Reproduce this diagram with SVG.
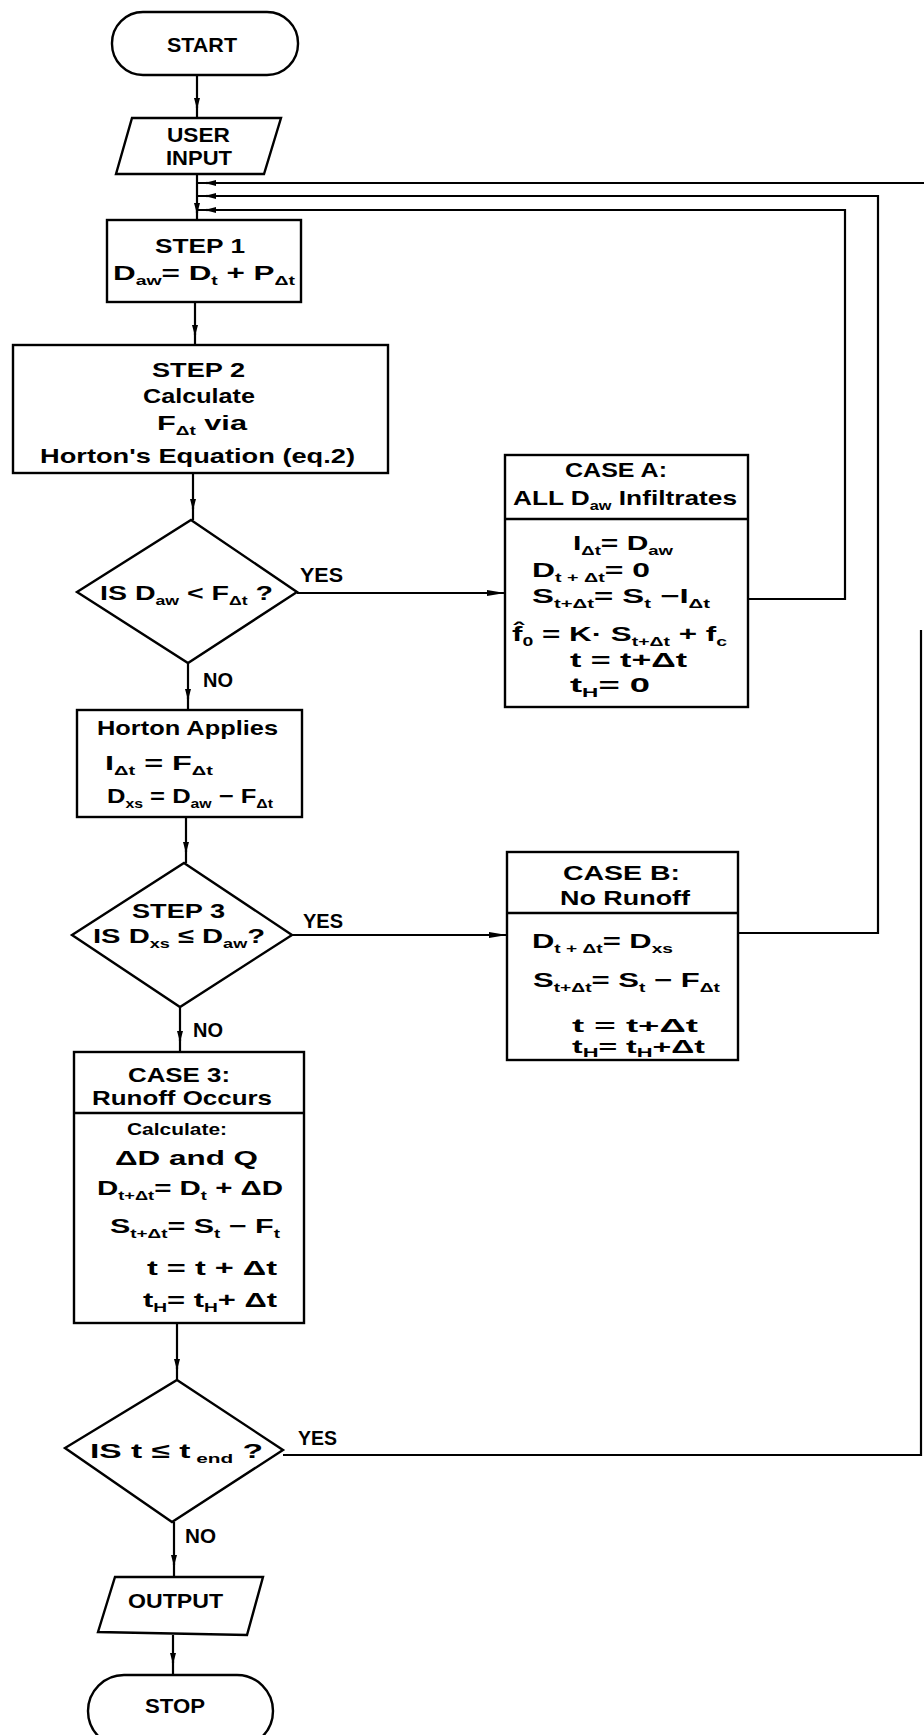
<svg xmlns="http://www.w3.org/2000/svg" width="924" height="1735" viewBox="0 0 924 1735" xml:space="preserve">
<style>
.n{fill:none;stroke:#000;stroke-width:2.4}
.c{fill:none;stroke:#000;stroke-width:2.2}
text{font-family:"Liberation Sans",Arial,sans-serif;font-size:21px;font-weight:bold;fill:#000}
.sb{font-size:13px}
.sm{font-size:17px}
.tt{font-size:19px}
</style>
<defs>
<marker id="sa" markerUnits="userSpaceOnUse" markerWidth="11" markerHeight="8" refX="10" refY="4" orient="auto"><path d="M0,1 L11,4 L0,7 z" fill="#000"/></marker>
<marker id="ba" markerUnits="userSpaceOnUse" markerWidth="18" markerHeight="8" refX="18" refY="4" orient="auto"><path d="M0,1 L18,4 L0,7 z" fill="#000"/></marker>
</defs>
<rect width="924" height="1735" fill="#fff"/>

<g id="connectors">
<path class="c" d="M197,75 V118"/><path class="c" d="M197,98 V108" marker-end="url(#sa)"/>
<path class="c" d="M197,174 V220"/><path class="c" d="M197,203 V213" marker-end="url(#sa)"/>
<path class="c" d="M195,302 V345"/><path class="c" d="M195,325 V335" marker-end="url(#sa)"/>
<path class="c" d="M193,473 V520"/><path class="c" d="M193,499 V509" marker-end="url(#sa)"/>
<path class="c" d="M297,593 H505" marker-end="url(#ba)"/>
<path class="c" d="M188,663 V710"/><path class="c" d="M188,689 V699" marker-end="url(#sa)"/>
<path class="c" d="M186,817 V863"/><path class="c" d="M186,842 V852" marker-end="url(#sa)"/>
<path class="c" d="M292,935 H507" marker-end="url(#ba)"/>
<path class="c" d="M180,1007 V1052"/><path class="c" d="M180,1031 V1041" marker-end="url(#sa)"/>
<path class="c" d="M177,1323 V1380"/><path class="c" d="M177,1359 V1369" marker-end="url(#sa)"/>
<path class="c" d="M174,1522 V1577"/><path class="c" d="M174,1555 V1565" marker-end="url(#sa)"/>
<path class="c" d="M173,1635 V1675"/><path class="c" d="M173,1653 V1663" marker-end="url(#sa)"/>
<path class="c" d="M748,599 H845 V210 H198"/><path class="c" d="M216,210 H206" marker-end="url(#sa)"/>
<path class="c" d="M738,933 H878 V196 H198"/><path class="c" d="M216,196 H206" marker-end="url(#sa)"/>
<path class="c" d="M924,183 H198"/><path class="c" d="M216,183 H206" marker-end="url(#sa)"/>
<path class="c" d="M283,1455 H921 V630"/>
<text x="300" y="582" textLength="43" lengthAdjust="spacingAndGlyphs">YES</text>
<text x="203" y="687" textLength="30" lengthAdjust="spacingAndGlyphs">NO</text>
<text x="303" y="928" textLength="40" lengthAdjust="spacingAndGlyphs">YES</text>
<text x="193" y="1037" textLength="30" lengthAdjust="spacingAndGlyphs">NO</text>
<text x="298" y="1445" textLength="39" lengthAdjust="spacingAndGlyphs">YES</text>
<text x="185" y="1543" textLength="31" lengthAdjust="spacingAndGlyphs">NO</text>
</g>

<g id="start">
<rect class="n" x="112" y="12" width="186" height="63" rx="31"/>
<text x="167" y="52" textLength="70" lengthAdjust="spacingAndGlyphs">START</text>
</g>

<g id="user-input">
<polygon class="n" points="132,118 281,118 264,174 116,174"/>
<text x="167" y="142" textLength="63" lengthAdjust="spacingAndGlyphs">USER</text>
<text x="166" y="165" textLength="66" lengthAdjust="spacingAndGlyphs">INPUT</text>
</g>

<g id="step1">
<rect class="n" x="107" y="220" width="194" height="82"/>
<text x="155" y="253" textLength="90" lengthAdjust="spacingAndGlyphs">STEP  1</text>
<text x="113" y="280" textLength="182" lengthAdjust="spacingAndGlyphs">D<tspan class="sb" dy="5">aw</tspan><tspan dy="-5">=  D</tspan><tspan class="sb" dy="5">t</tspan><tspan dy="-5">  +  P</tspan><tspan class="sb" dy="5">Δt</tspan></text>
</g>

<g id="step2">
<rect class="n" x="13" y="345" width="375" height="128"/>
<text x="152" y="377" textLength="93" lengthAdjust="spacingAndGlyphs">STEP  2</text>
<text x="143" y="403" textLength="112" lengthAdjust="spacingAndGlyphs">Calculate</text>
<text x="157" y="430" textLength="90" lengthAdjust="spacingAndGlyphs">F<tspan class="sb" dy="5">Δt</tspan><tspan dy="-5">   via</tspan></text>
<text x="40" y="463" textLength="315" lengthAdjust="spacingAndGlyphs">Horton's  Equation  (eq.2)</text>
</g>

<g id="decision1">
<polygon class="n" points="191,520 297,592 188,663 77,592"/>
<text x="100" y="600" textLength="173" lengthAdjust="spacingAndGlyphs">IS  D<tspan class="sb" dy="5">aw</tspan><tspan dy="-5"> &lt; F</tspan><tspan class="sb" dy="5">Δt</tspan><tspan dy="-5">  ?</tspan></text>
</g>

<g id="caseA">
<rect class="n" x="505" y="455" width="243" height="252"/>
<line class="n" x1="505" y1="519" x2="748" y2="519"/>
<text x="565" y="477" textLength="102" lengthAdjust="spacingAndGlyphs">CASE  A:</text>
<text x="513" y="505" textLength="224" lengthAdjust="spacingAndGlyphs">ALL  D<tspan class="sb" dy="5">aw</tspan><tspan dy="-5">  Infiltrates</tspan></text>
<text x="573" y="550" textLength="100" lengthAdjust="spacingAndGlyphs">I<tspan class="sb" dy="5">Δt</tspan><tspan dy="-5">=  D</tspan><tspan class="sb" dy="5">aw</tspan></text>
<text x="532" y="577" textLength="118" lengthAdjust="spacingAndGlyphs">D<tspan class="sb" dy="5">t + Δt</tspan><tspan dy="-5">=  0</tspan></text>
<text x="532" y="603" textLength="178" lengthAdjust="spacingAndGlyphs">S<tspan class="sb" dy="5">t+Δt</tspan><tspan dy="-5">=  S</tspan><tspan class="sb" dy="5">t</tspan><tspan dy="-5"> −I</tspan><tspan class="sb" dy="5">Δt</tspan></text>
<text x="512" y="641" textLength="215" lengthAdjust="spacingAndGlyphs">f̂<tspan class="sb" dy="5">0</tspan><tspan dy="-5"> =  K· S</tspan><tspan class="sb" dy="5">t+Δt</tspan><tspan dy="-5"> +  f</tspan><tspan class="sb" dy="5">c</tspan></text>
<text x="570" y="667" textLength="117" lengthAdjust="spacingAndGlyphs">t  =  t+Δt</text>
<text x="570" y="692" textLength="80" lengthAdjust="spacingAndGlyphs">t<tspan class="sb" dy="5">H</tspan><tspan dy="-5">=  0</tspan></text>
</g>

<g id="horton">
<rect class="n" x="77" y="710" width="225" height="107"/>
<text x="97" y="735" textLength="181" lengthAdjust="spacingAndGlyphs">Horton  Applies</text>
<text x="105" y="770" textLength="108" lengthAdjust="spacingAndGlyphs">I<tspan class="sb" dy="5">Δt</tspan><tspan dy="-5"> =  F</tspan><tspan class="sb" dy="5">Δt</tspan></text>
<text x="107" y="803" textLength="166" lengthAdjust="spacingAndGlyphs">D<tspan class="sb" dy="5">xs</tspan><tspan dy="-5"> = D</tspan><tspan class="sb" dy="5">aw</tspan><tspan dy="-5"> − F</tspan><tspan class="sb" dy="5">Δt</tspan></text>
</g>

<g id="decision2">
<polygon class="n" points="184,863 292,935 180,1007 72,935"/>
<text x="132" y="918" textLength="93" lengthAdjust="spacingAndGlyphs">STEP  3</text>
<text x="93" y="943" textLength="172" lengthAdjust="spacingAndGlyphs">IS  D<tspan class="sb" dy="5">xs</tspan><tspan dy="-5">  ≤  D</tspan><tspan class="sb" dy="5">aw</tspan><tspan dy="-5">?</tspan></text>
</g>

<g id="caseB">
<rect class="n" x="507" y="852" width="231" height="208"/>
<line class="n" x1="507" y1="913" x2="738" y2="913"/>
<text x="563" y="880" textLength="117" lengthAdjust="spacingAndGlyphs">CASE  B:</text>
<text x="560" y="905" textLength="130" lengthAdjust="spacingAndGlyphs">No  Runoff</text>
<text x="532" y="948" textLength="141" lengthAdjust="spacingAndGlyphs">D<tspan class="sb" dy="5">t + Δt</tspan><tspan dy="-5">=  D</tspan><tspan class="sb" dy="5">xs</tspan></text>
<text x="533" y="987" textLength="187" lengthAdjust="spacingAndGlyphs">S<tspan class="sb" dy="5">t+Δt</tspan><tspan dy="-5">=  S</tspan><tspan class="sb" dy="5">t</tspan><tspan dy="-5"> − F</tspan><tspan class="sb" dy="5">Δt</tspan></text>
<text class="tt" x="572" y="1032" textLength="126" lengthAdjust="spacingAndGlyphs">t  =  t+Δt</text>
<text class="tt" x="572" y="1053" textLength="133" lengthAdjust="spacingAndGlyphs">t<tspan class="sb" dy="4">H</tspan><tspan dy="-4">=  t</tspan><tspan class="sb" dy="4">H</tspan><tspan dy="-4">+Δt</tspan></text>
</g>

<g id="case3">
<rect class="n" x="74" y="1052" width="230" height="271"/>
<line class="n" x1="74" y1="1113" x2="304" y2="1113"/>
<text x="128" y="1082" textLength="102" lengthAdjust="spacingAndGlyphs">CASE  3:</text>
<text x="92" y="1105" textLength="180" lengthAdjust="spacingAndGlyphs">Runoff  Occurs</text>
<text class="sm" x="127" y="1135" textLength="100" lengthAdjust="spacingAndGlyphs">Calculate:</text>
<text x="115" y="1165" textLength="143" lengthAdjust="spacingAndGlyphs">ΔD    and   Q</text>
<text x="97" y="1195" textLength="186" lengthAdjust="spacingAndGlyphs">D<tspan class="sb" dy="5">t+Δt</tspan><tspan dy="-5">=  D</tspan><tspan class="sb" dy="5">t</tspan><tspan dy="-5"> + ΔD</tspan></text>
<text x="110" y="1233" textLength="170" lengthAdjust="spacingAndGlyphs">S<tspan class="sb" dy="5">t+Δt</tspan><tspan dy="-5">=  S</tspan><tspan class="sb" dy="5">t</tspan><tspan dy="-5"> − F</tspan><tspan class="sb" dy="5">t</tspan></text>
<text x="147" y="1275" textLength="130" lengthAdjust="spacingAndGlyphs">t  =  t + Δt</text>
<text x="143" y="1307" textLength="134" lengthAdjust="spacingAndGlyphs">t<tspan class="sb" dy="5">H</tspan><tspan dy="-5">=  t</tspan><tspan class="sb" dy="5">H</tspan><tspan dy="-5">+ Δt</tspan></text>
</g>

<g id="decision3">
<polygon class="n" points="177,1380 283,1450 172,1522 65,1448"/>
<text x="90" y="1458" textLength="173" lengthAdjust="spacingAndGlyphs">IS  t  ≤  t<tspan class="sb" dy="5"> end</tspan><tspan dy="-5">  ?</tspan></text>
</g>

<g id="output">
<polygon class="n" points="115,1577 263,1577 247,1635 98,1632"/>
<text x="128" y="1608" textLength="95" lengthAdjust="spacingAndGlyphs">OUTPUT</text>
</g>

<g id="stop">
<rect class="n" x="88" y="1675" width="185" height="72" rx="36"/>
<text x="145" y="1713" textLength="60" lengthAdjust="spacingAndGlyphs">STOP</text>
</g>
</svg>
